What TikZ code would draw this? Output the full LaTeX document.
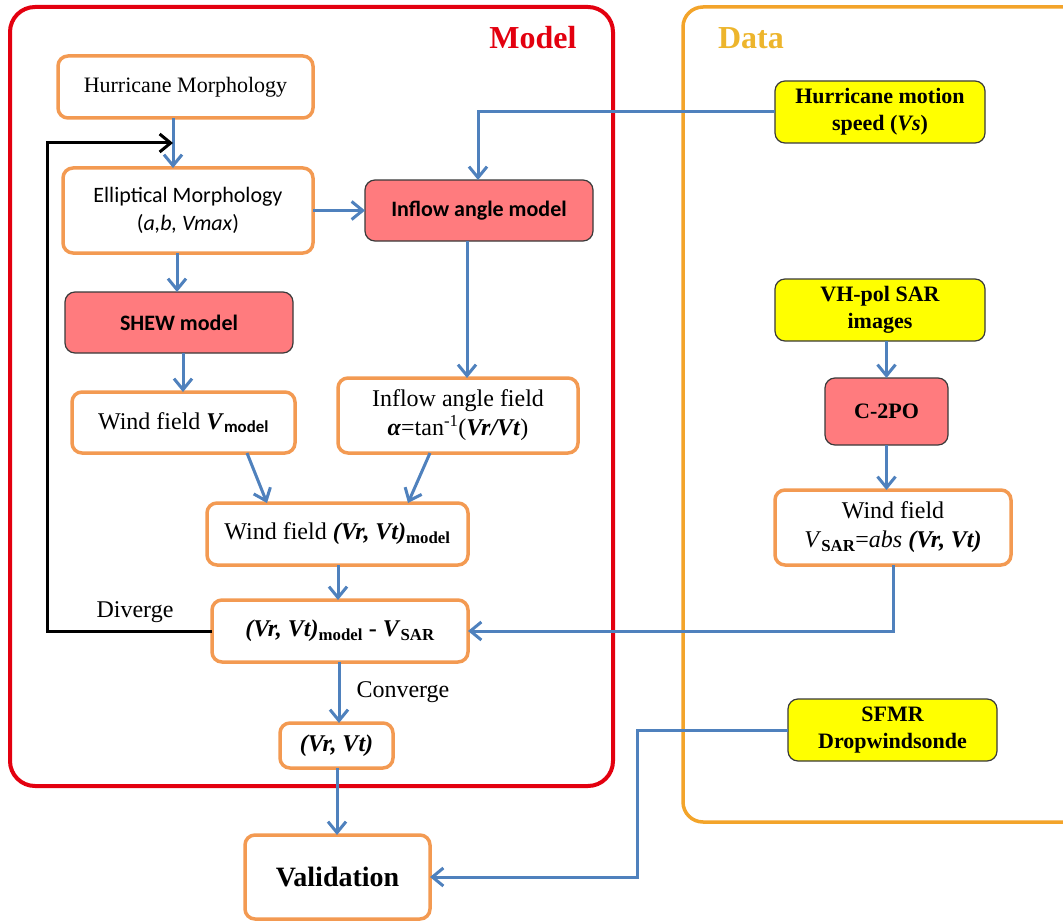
\documentclass[tikz,border=0pt]{standalone}
\usepackage{fontspec}
\setmainfont{Liberation Serif}
\newfontfamily\calib{Carlito}
\usetikzlibrary{arrows.meta,calc}
\definecolor{boxor}{HTML}{F39A52}
\definecolor{arrb}{HTML}{4F81BD}
\definecolor{modelred}{HTML}{E3000F}
\definecolor{dataor}{HTML}{F3A42A}
\definecolor{datatxt}{HTML}{EDB52C}
\definecolor{pinkf}{HTML}{FF7B7E}
\definecolor{yellowf}{HTML}{FFFF00}
\definecolor{darkb}{HTML}{3A3A3A}
\newcommand\fsz[2]{\fontsize{#1}{#2}\selectfont}
\newcommand\bi[1]{\textbf{\textit{#1}}}
\begin{document}
\begin{tikzpicture}[x=1pt,y=-1pt,
  obox/.style={draw=boxor, line width=3.5pt, rounded corners=10pt, fill=white, align=center, inner sep=0pt, outer sep=0pt, font=\fsz{24}{29}},
  pbox/.style={draw=darkb, line width=1.2pt, rounded corners=10pt, fill=pinkf, align=center, inner sep=0pt, outer sep=0pt, font=\calib\bfseries\fsz{22}{26}},
  ybox/.style={draw=darkb, line width=1.2pt, rounded corners=10pt, fill=yellowf, align=center, inner sep=0pt, outer sep=0pt, font=\bfseries\fsz{22}{27}},
  barrow/.style={draw=arrb, line width=3pt, -{Straight Barb[length=11pt,width=18pt]}},
  karrow/.style={draw=black, line width=3pt, -{Straight Barb[length=11pt,width=18pt]}},
  lbl/.style={font=\fsz{24}{28}, inner sep=0pt}]
\useasboundingbox (0,0) rectangle (1063,923);
\fill[white] (0,0) rectangle (1063,923);
% group frames
\draw[draw=modelred, line width=4pt, rounded corners=25pt] (10,7) rectangle (613,786);
\draw[draw=dataor, line width=3.5pt, rounded corners=20pt] (683,7) rectangle (1085,822);
\node[font=\bfseries\fsz{32}{36}, text=modelred] (mt) at (533,38) {Model};
\node[font=\bfseries\fsz{32}{36}, text=datatxt] (dt) at (751,38) {Data};
% model nodes
\node[obox, minimum width=255pt, minimum height=62pt, font=\fsz{22}{26}] (hm) at (185.5,87) {Hurricane Morphology};
\node[obox, minimum width=250pt, minimum height=85pt, font=\calib\fsz{22}{28}] (em) at (188,210.5) {Elliptical Morphology\\(\textit{a,b, Vmax})};
\node[pbox, minimum width=228pt, minimum height=61pt] (iam) at (479,210.5) {Inflow angle model};
\node[pbox, minimum width=228pt, minimum height=61pt] (shew) at (179,322.5) {SHEW model};
\node[obox, minimum width=223pt, minimum height=61pt] (wf) at (183.5,422.5) {Wind field \bi{V}\textsubscript{\calib\bfseries model}};
\node[obox, minimum width=240pt, minimum height=75pt] (iaf) at (458,415.5) {Inflow angle field\\\bi{α}=tan\textsuperscript{-1}(\bi{Vr/Vt})};
\node[obox, minimum width=261pt, minimum height=62pt] (wfm) at (337.5,534) {Wind field \bi{(Vr, Vt)}\textsubscript{\bfseries model}};
\node[obox, minimum width=256pt, minimum height=62pt] (diff) at (340,631) {\bi{(Vr, Vt)}\textsubscript{\bfseries model} \textbf{-} \bi{V}\textsubscript{\bfseries SAR}};
\node[obox, minimum width=113pt, minimum height=45pt] (vrvt) at (336.5,745.5) {\bi{(Vr, Vt)}};
\node[obox, minimum width=185pt, minimum height=84pt, font=\bfseries\fsz{28}{32}] (val) at (337.5,877) {Validation};
% data nodes
\node[ybox, minimum width=210pt, minimum height=62pt] (hms) at (880,112) {Hurricane motion\\speed (\textit{Vs})};
\node[ybox, minimum width=210pt, minimum height=62pt] (vh) at (880,310) {VH-pol SAR\\images};
\node[pbox, minimum width=123pt, minimum height=67pt, font=\bfseries\fsz{22}{26}] (c2po) at (886.5,411.5) {C-2PO};
\node[obox, minimum width=236pt, minimum height=75pt] (wfsar) at (893,527.5) {Wind field\\\textit{V}\textsubscript{\bfseries SAR}=\textit{abs} \bi{(Vr, Vt)}};
\node[ybox, minimum width=209pt, minimum height=62pt] (sfmr) at (892.5,730) {SFMR\\Dropwindsonde};
% helper coordinates
\coordinate (xa) at (173,0);
\coordinate (lp) at (47,143);
\coordinate (fb) at (173,143);
\coordinate (xb) at (478,0);
\coordinate (xc) at (177,0);
\coordinate (xd) at (183,0);
\coordinate (xe) at (467,0);
\coordinate (xf) at (247,0);
\coordinate (xg) at (267,0);
\coordinate (xh) at (430,0);
\coordinate (xi) at (408,0);
\coordinate (xj) at (338,0);
\coordinate (xk) at (339,0);
\coordinate (xl) at (337,0);
\coordinate (xm) at (637,0);
% connectors
\draw[barrow] (hm.south -| xa) -- (em.north -| xa);
\draw[karrow] (diff.west) -| (lp) -- (fb);
\draw[barrow] (em.east) -- (iam.west);
\draw[barrow] (hms.west) -| (iam.north -| xb);
\draw[barrow] (em.south -| xc) -- (shew.north -| xc);
\draw[barrow] (shew.south -| xd) -- (wf.north -| xd);
\draw[barrow] (iam.south -| xe) -- (iaf.north -| xe);
\draw[barrow] (wf.south -| xf) -- (wfm.north -| xg);
\draw[barrow] (iaf.south -| xh) -- (wfm.north -| xi);
\draw[barrow] (wfm.south -| xj) -- (diff.north -| xj);
\draw[barrow] (vh.south -| c2po) -- (c2po.north);
\draw[barrow] (c2po.south) -- (wfsar.north -| c2po);
\draw[barrow] (wfsar.south) |- (diff.east);
\draw[barrow] (diff.south -| xk) -- (vrvt.north -| xk) node[midway, anchor=west, xshift=16pt, lbl] (cv) {Converge};
\draw[barrow] (vrvt.south -| xl) -- (val.north -| xl);
\draw[barrow] (sfmr.west) -| (xm |- val.east) -- (val.east);
\node[lbl] (dv) at (135,612) {Diverge};
\end{tikzpicture}
\end{document}
